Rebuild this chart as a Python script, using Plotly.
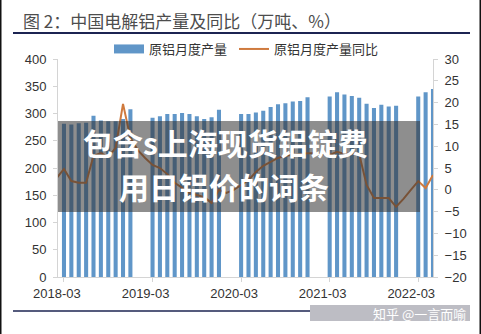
import plotly.graph_objects as go

# ---------------- data ----------------
months = [
    "2018-02", "2018-03", "2018-04", "2018-05", "2018-06", "2018-07", "2018-08", "2018-09", "2018-10", "2018-11", "2018-12",
    "2019-01", "2019-02", "2019-03", "2019-04", "2019-05", "2019-06", "2019-07", "2019-08", "2019-09", "2019-10", "2019-11", "2019-12",
    "2020-01", "2020-02", "2020-03", "2020-04", "2020-05", "2020-06", "2020-07", "2020-08", "2020-09", "2020-10", "2020-11", "2020-12",
    "2021-01", "2021-02", "2021-03", "2021-04", "2021-05", "2021-06", "2021-07", "2021-08", "2021-09", "2021-10", "2021-11", "2021-12",
    "2022-01", "2022-02", "2022-03", "2022-04", "2022-05",
]

# 原铝月度产量 (万吨) — Jan/Feb not reported separately
production = [
    None, 281, 280, 282, 283, 296, 287, 286, 286, 290, 308,
    None, None, 292, 295, 299, 299, 301, 299, 295, 290, 293, 307,
    None, None, 299, 299, 302, 305, 312, 317, 319, 322, 323, 330,
    None, None, 331, 339, 335, 332, 329, 318, 310, 316, 313, 314,
    None, None, 331, 339, 345,
]

# 原铝月度产量同比 (%)
yoy = [
    2.7, 4.8, 2.0, 1.6, 1.6, 7.8, 8.4, 7.5, 9.6, 19.7, 11.9,
    9.1, 7.3, 5.7, 5.0, 3.6, 1.6, 0.4, -0.7, -1.2, -1.7, -3.0, 0.0,
    -0.7, 0.0, 1.1, 2.2, 4.1, 5.5, 6.4, 7.3, 7.8, 8.0, 8.2, 8.4,
    8.4, 8.2, 8.0, 8.7, 8.2, 8.4, 8.2, 1.1, -1.9, -1.9, -1.9, -3.9,
    -2.1, 0.0, 2.0, 0.4, 3.4,
]

tick_labels = ["2018-03", "2019-03", "2020-03", "2021-03", "2022-03"]

title_text = "图 2：中国电解铝产量及同比（万吨、%）"
series_bar = "原铝月度产量"
series_line = "原铝月度产量同比"
overlay_line1 = "包含s上海现货铝锭费"
overlay_line2 = "用日铝价的词条"
watermark = "知乎 @一言而喻"

# ---------------- styling ----------------
BAR_COLOR = "#6096c8"
LINE_COLOR = "#cf7a3e"
AXIS_COLOR = "#d4d4d4"
TEXT_COLOR = "#333333"
NUM_FONT = "Liberation Sans"
CJK_FONT = "Noto Sans CJK SC"

fig = go.Figure()

fig.add_trace(go.Bar(
    x=months, y=production, name=series_bar,
    marker=dict(color=BAR_COLOR, line=dict(width=0)),
    width=0.55, showlegend=False, yaxis="y",
))
# legend swatch for the bars (wide rectangle like the original)
fig.add_trace(go.Scatter(
    x=[None], y=[None], mode="lines", name=series_bar,
    line=dict(color=BAR_COLOR, width=9), showlegend=True, legend="legend",
))
fig.add_trace(go.Scatter(
    x=months, y=yoy, name=series_line, mode="lines",
    line=dict(color=LINE_COLOR, width=2), yaxis="y2", connectgaps=True,
    legend="legend2",
))

W, H = 481, 334
L, R, T, B = 58, 48, 59, 57
PW, PH = W - L - R, H - T - B


def px(xp):
    return (xp - L) / PW


def py(yp):
    return (H - B - yp) / PH


shapes = [
    # navy rule under title
    dict(type="line", xref="paper", yref="paper", x0=px(13), x1=px(470), y0=py(33), y1=py(33),
         line=dict(color="#1c2452", width=2)),
    # bottom rule
    dict(type="line", xref="paper", yref="paper", x0=px(13), x1=px(310), y0=py(311), y1=py(311),
         line=dict(color="#1c2452", width=1.5)),
    # watermark band
    dict(type="rect", xref="paper", yref="paper", x0=px(310), x1=px(470), y0=py(305), y1=py(321),
         fillcolor="#bdbdc4", line=dict(width=0), layer="above"),
    # dark overlay box
    dict(type="rect", xref="paper", yref="paper", x0=px(58), x1=px(420), y0=py(121), y1=py(212),
         fillcolor="rgba(50,50,50,0.55)", line=dict(width=0), layer="above"),
    # side border lines
    dict(type="line", xref="paper", yref="paper", x0=px(0.75), x1=px(0.75), y0=py(0), y1=py(H),
         line=dict(color="#111111", width=1.5)),
    dict(type="line", xref="paper", yref="paper", x0=px(480.25), x1=px(480.25), y0=py(0), y1=py(H),
         line=dict(color="#111111", width=1.5)),
]

annotations = [
    dict(text=title_text, xref="paper", yref="paper", x=px(21), y=py(20), xanchor="left", yanchor="middle",
         showarrow=False, font=dict(family=CJK_FONT, size=17, color="#4d4d4d")),
    dict(text="<b>" + overlay_line1 + "</b>",
         xref="paper", yref="paper", x=px(225), y=py(142),
         xanchor="center", yanchor="middle", showarrow=False,
         font=dict(family=CJK_FONT, size=30, color="white")),
    dict(text="<b>" + overlay_line2 + "</b>",
         xref="paper", yref="paper", x=px(224), y=py(186),
         xanchor="center", yanchor="middle", showarrow=False,
         font=dict(family=CJK_FONT, size=30, color="white")),
    dict(text=watermark, xref="paper", yref="paper", x=px(468), y=py(313), xanchor="right", yanchor="middle",
         showarrow=False, font=dict(family=CJK_FONT, size=13, color="white")),
]

legend_common = dict(
    orientation="h", yanchor="middle", y=py(49),
    font=dict(family=CJK_FONT, size=13, color=TEXT_COLOR),
    bgcolor="rgba(0,0,0,0)", itemwidth=30, xanchor="left",
)

fig.update_layout(
    width=W, height=H,
    margin=dict(l=L, r=R, t=T, b=B, pad=0),
    paper_bgcolor="white", plot_bgcolor="white",
    bargap=0.45,
    xaxis=dict(
        type="category", range=[0.19, 51.0],
        tickmode="array", tickvals=tick_labels, ticktext=tick_labels,
        ticklabelshift=-7,
        showline=True, linecolor=AXIS_COLOR, linewidth=1,
        ticks="outside", ticklen=4, tickcolor=AXIS_COLOR,
        showgrid=False, zeroline=False,
        tickfont=dict(family=NUM_FONT, size=13, color=TEXT_COLOR),
    ),
    yaxis=dict(
        range=[0, 400], dtick=50, tick0=0,
        showline=True, linecolor=AXIS_COLOR, linewidth=1,
        ticks="outside", ticklen=4, tickcolor=AXIS_COLOR,
        showgrid=False, zeroline=False,
        tickfont=dict(family=NUM_FONT, size=13, color=TEXT_COLOR),
        ticklabelstandoff=4,
    ),
    yaxis2=dict(
        overlaying="y", side="right", anchor="x",
        range=[-20, 30], dtick=5, tick0=0,
        showline=True, linecolor=AXIS_COLOR, linewidth=1,
        ticks="outside", ticklen=4, tickcolor=AXIS_COLOR,
        showgrid=False, zeroline=False,
        tickfont=dict(family=NUM_FONT, size=13, color=TEXT_COLOR),
        ticklabelstandoff=4,
    ),
    legend=dict(legend_common, x=px(109)),
    legend2=dict(legend_common, x=px(234)),
    shapes=shapes,
    annotations=annotations,
)

fig.write_html("out.html")
